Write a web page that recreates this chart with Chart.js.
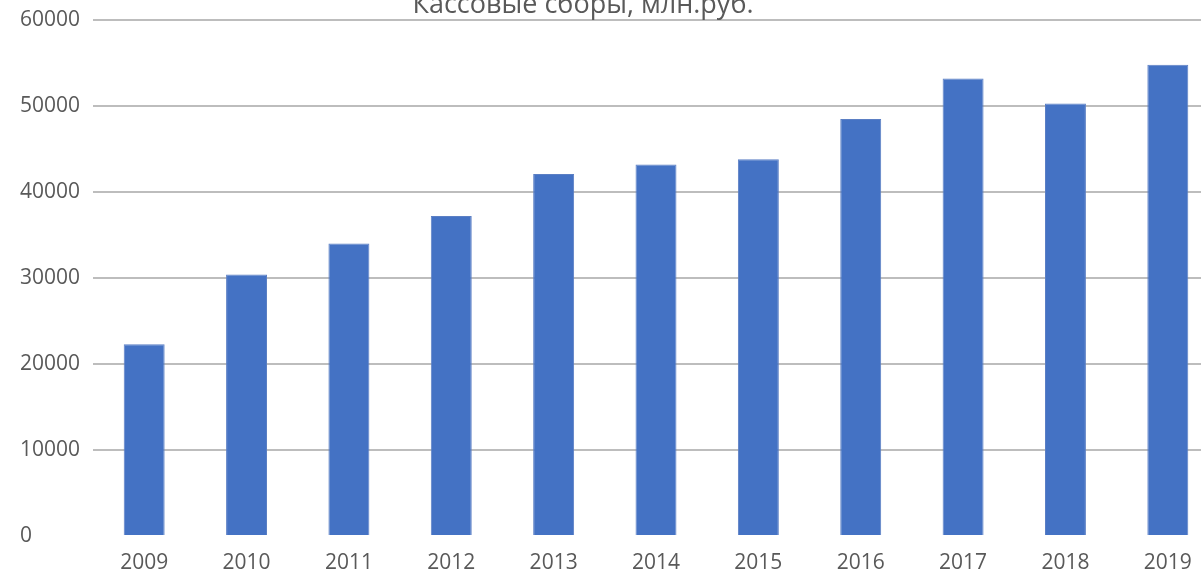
<!DOCTYPE html>
<html>
<head>
<meta charset="utf-8">
<script src="https://cdn.jsdelivr.net/npm/chart.js@4"></script>
<style>
  html, body { margin: 0; padding: 0; background: #fff; overflow: hidden; }
  #wrap { position: relative; width: 1230px; height: 575px; }
  #title {
    position: absolute; top: -11px; left: 583px; transform: translateX(-50%);
    font-family: "Open Sans", sans-serif; font-size: 27px; line-height: 27px;
    color: #595959; white-space: nowrap;
  }
</style>
</head>
<body>
<div id="wrap">
  <canvas id="boxOfficeChart" width="1230" height="575"></canvas>
  <div id="title">Кассовые сборы, млн.руб.</div>
</div>
<script>
// Box office revenue, mln RUB
const years = ['2009', '2010', '2011', '2012', '2013', '2014', '2015', '2016', '2017', '2018', '2019'];
const revenue = [22300, 30400, 34000, 37200, 42100, 43200, 43800, 48500, 53200, 50300, 54800];
const yTicks = [0, 10000, 20000, 30000, 40000, 50000, 60000];

const ctx = document.getElementById('boxOfficeChart').getContext('2d');
const boxOfficeChart = new Chart(ctx, {
  type: 'bar',
  data: {
    labels: years,
    datasets: [{
      label: 'Кассовые сборы, млн.руб.',
      data: revenue,
      backgroundColor: '#4472C4',
      borderColor: '#5b7fc4',
      borderWidth: 1,
      barPercentage: 0.4,
      categoryPercentage: 1
    }]
  },
  options: {
    responsive: false,
    animation: false,
    layout: { padding: { top: 20, right: 11, bottom: 0, left: 20 } },
    plugins: { legend: { display: false }, tooltip: { enabled: false } },
    scales: {
      x: {
        grid: { display: false, drawTicks: false },
        border: { display: false },
        afterFit: (scale) => { scale.height = 39; },
        ticks: { color: '#595959', font: { family: 'Open Sans', size: 21 }, padding: 14 }
      },
      y: {
        min: 0,
        max: 60000,
        afterBuildTicks: (scale) => { scale.ticks = yTicks.map(v => ({ value: v })); },
        afterFit: (scale) => {
          scale.width = 73;
          scale.paddingTop = 0;
          scale.paddingBottom = 0;
        },
        border: { display: false },
        grid: {
          drawTicks: false,
          lineWidth: 2,
          color: (c) => c.tick && c.tick.value === 0 ? 'rgba(0,0,0,0)' : '#bdbdbd'
        },
        ticks: {
          color: '#595959',
          font: { family: 'Open Sans', size: 21 },
          crossAlign: 'far',
          padding: 15,
          callback: (v) => String(v)
        }
      }
    }
  }
});
</script>
</body>
</html>
